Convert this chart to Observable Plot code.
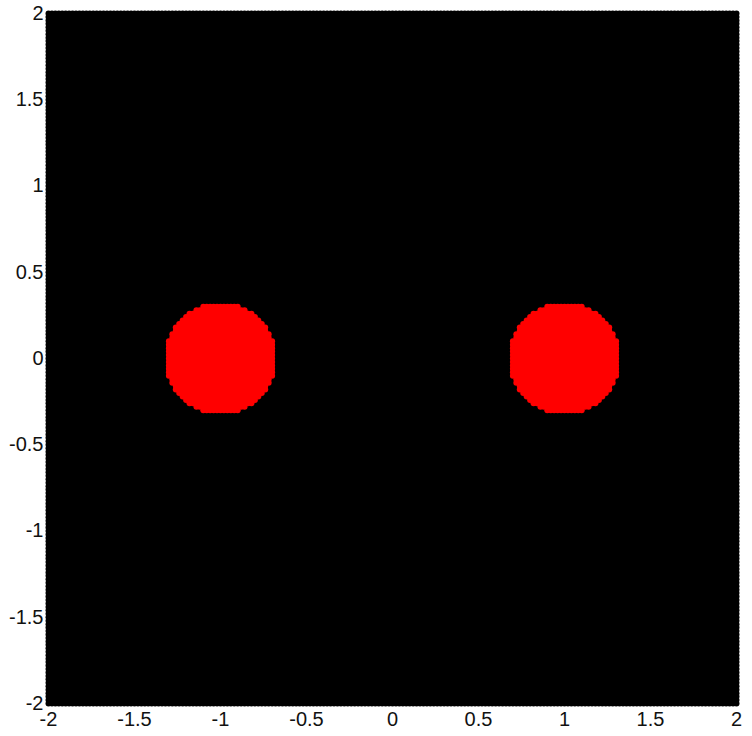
<!DOCTYPE html>
<html>
<head>
<meta charset="utf-8">
<script src="https://cdn.jsdelivr.net/npm/d3@7"></script>
<script src="https://cdn.jsdelivr.net/npm/@observablehq/plot@0.6"></script>
<style>
  body { margin: 0; background: white; }
</style>
</head>
<body>
<div id="chart"></div>
<script>
// mesh of sample points (201 x 201, step 0.02)
const gridMin = -2
const gridMax = 2
const gridN = 201
// the two red discs
const centerX = [-1, 1]
const centerY = [0, 0]
const radius = 0.32
// axis ticks
const xTicks = [-2, -1.5, -1, -0.5, 0, 0.5, 1, 1.5, 2]
const yTicks = [-2, -1.5, -1, -0.5, 0, 0.5, 1, 1.5, 2]

const gridValues = d3.range(gridN).map(i => gridMin + i * (gridMax - gridMin) / (gridN - 1))

let points = []
gridValues.forEach(y => {
  gridValues.forEach(x => {
    let inside = centerX.some((cx, k) => (x - cx) ** 2 + (y - centerY[k]) ** 2 < radius * radius - 1e-9)
    points.push({x, y, inside})
  })
})
let redPoints = points.filter(d => d.inside)

let chart = Plot.plot({
  width: 752,
  height: 736,
  marginLeft: 48,
  marginRight: 16,
  marginTop: 13,
  marginBottom: 33,
  x: {domain: [gridMin, gridMax], label: null},
  y: {domain: [gridMin, gridMax], label: null},
  style: {
    fontFamily: "'Liberation Sans', Arial, sans-serif",
    color: "#111"
  },
  marks: [
    Plot.dot(points, {x: "x", y: "y", r: 3, fill: "black", stroke: null}),
    Plot.dot(redPoints, {x: "x", y: "y", r: 3, fill: "#ff0000", stroke: null}),
    Plot.axisX({ticks: xTicks, tickSize: 0, tickPadding: 8, fontSize: 20, tickFormat: d => String(d), label: null}),
    Plot.axisY({ticks: yTicks, tickSize: 0, tickPadding: 5, fontSize: 20, tickFormat: d => String(d), label: null})
  ]
})

d3.select('#chart').append(() => chart)
</script>
</body>
</html>
